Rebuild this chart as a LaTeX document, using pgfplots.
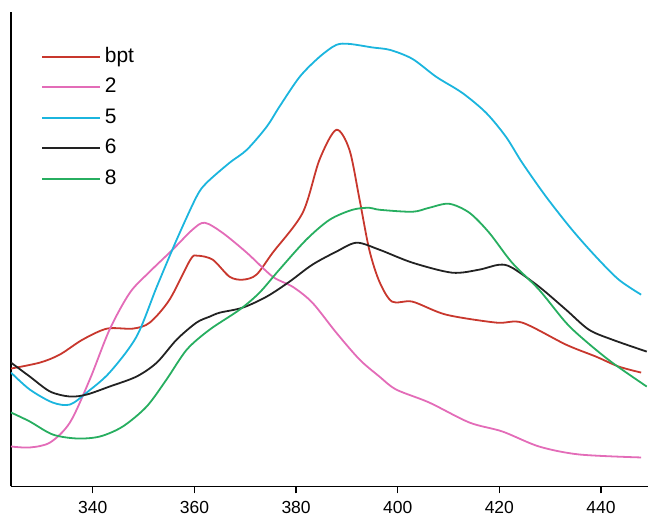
\documentclass[border=0pt]{standalone}
\usepackage{fontspec}
\setmainfont{Liberation Sans}
\usepackage{pgfplots}
\pgfplotsset{compat=1.18}
\definecolor{cred}{HTML}{C8372D}
\definecolor{cpink}{HTML}{E36CB8}
\definecolor{ccyan}{HTML}{1BB5DE}
\definecolor{cblack}{HTML}{222222}
\definecolor{cgreen}{HTML}{27AE60}
\begin{document}
\begin{tikzpicture}
\begin{axis}[
  scale only axis,
  width=638pt, height=475pt,
  xmin=323.9, xmax=449.3, ymin=0, ymax=475,
  axis x line=bottom, axis y line=left,
  axis line style={-, line width=1.5pt, black},
  xtick={340,360,...,440}, ytick=\empty,
  tick align=outside,
  major tick length=7pt,
  xtick style={line width=1.3pt, black},
  /pgf/number format/assume math mode=true,
  /pgf/number format/1000 sep={},
  ticklabel style={font=\fontsize{17.5}{20}\selectfont},
  x tick label style={yshift=-4pt},
  every axis plot/.append style={line width=1.8pt, smooth, tension=0.5, no marks},
  legend style={draw=none, fill=none, at={(rel axis cs:0,1)}, anchor=north west,
    xshift=27pt, yshift=-31pt, row sep=7.6pt,
    nodes={inner sep=2pt, text height=15pt, text depth=4pt, font=\fontsize{21}{23}\selectfont}},
  legend cell align=left,
  legend image code/.code={\draw[#1] plot coordinates {(0pt,0pt) (29pt,0pt) (58pt,0pt)};},
  clip=true,
]
\addplot[cred] coordinates {
(323.9,118) (329.6,124) (333.5,132) (338.0,147) (342.8,158) (347.9,158) (351.2,164)
(355.1,187) (359.2,227) (360.6,231) (363.6,227) (366.9,210) (369.5,207) (372.2,212)
(375.4,234) (381.3,274) (384.6,327) (387.9,357) (390.5,337) (392.5,287) (394.4,237)
(396.4,205) (398.9,185) (402.9,185) (409.5,172) (419.4,164) (424.5,164) (433.1,142)
(439.0,130) (443.5,120) (447.9,114)};
\addlegendentry{\hspace{2pt}bpt}
\addplot[cpink] coordinates {
(323.9,40) (327.6,39) (331.6,44) (335.5,64) (339.4,107) (343.3,157) (347.3,194)
(351.2,215) (355.7,237) (359.6,257) (362.0,264) (365.5,254) (370.3,234) (375.4,210)
(379.3,200) (383.2,184) (387.9,154) (392.5,127) (396.4,110) (399.7,97) (406.2,84)
(414.1,64) (420.6,55) (427.8,40) (435.7,32) (447.9,29)};
\addlegendentry{\hspace{2pt}2}
\addplot[ccyan] coordinates {
(323.9,114) (327.6,97) (332.1,84) (335.5,82) (338.8,94) (343.3,114) (348.6,150)
(352.6,200) (356.5,247) (360.4,290) (362.4,304) (366.9,324) (370.3,337) (374.2,360)
(376.7,380) (380.7,410) (384.6,430) (387.9,442) (390.5,443) (395.0,439.5) (398.5,437)
(402.9,428) (407.6,410) (412.7,394) (417.4,374) (421.3,350) (424.5,324) (429.2,290)
(434.3,257) (439.0,230) (443.5,207) (447.9,192)};
\addlegendentry{\hspace{2pt}5}
\addplot[cblack] coordinates {
(323.9,124) (327.6,110) (331.6,95) (335.5,90) (338.8,92) (343.3,100) (348.6,110)
(352.6,124) (356.5,147) (360.4,164) (363.0,170) (365.0,174) (369.5,179) (374.2,190)
(378.7,205) (383.2,222) (387.9,235) (391.9,244) (396.4,237) (402.9,224) (410.7,214)
(416.0,217) (420.0,222) (422.5,219) (427.8,200) (433.1,177) (437.6,157) (442.2,147)
(449.0,135)};
\addlegendentry{\hspace{2pt}6}
\addplot[cgreen] coordinates {
(323.9,74) (327.6,65) (332.1,52) (336.9,48) (341.4,50) (345.9,60) (350.6,80)
(354.5,107) (358.5,137) (363.0,157) (368.9,177) (372.8,194) (376.7,217) (382.0,247)
(386.6,267) (391.1,277) (394.4,279) (396.4,277) (402.9,275) (406.2,279) (410.1,283)
(414.1,274) (418.0,254) (422.5,224) (427.8,197) (433.1,164) (437.1,145) (442.2,124)
(449.0,100)};
\addlegendentry{\hspace{2pt}8}
\coordinate (sw) at (rel axis cs:0,0);
\coordinate (ne) at (rel axis cs:1,1);
\end{axis}
\path ([shift={(-11pt,-32pt)}]sw) rectangle ([shift={(0pt,12pt)}]ne);
\end{tikzpicture}
\end{document}
